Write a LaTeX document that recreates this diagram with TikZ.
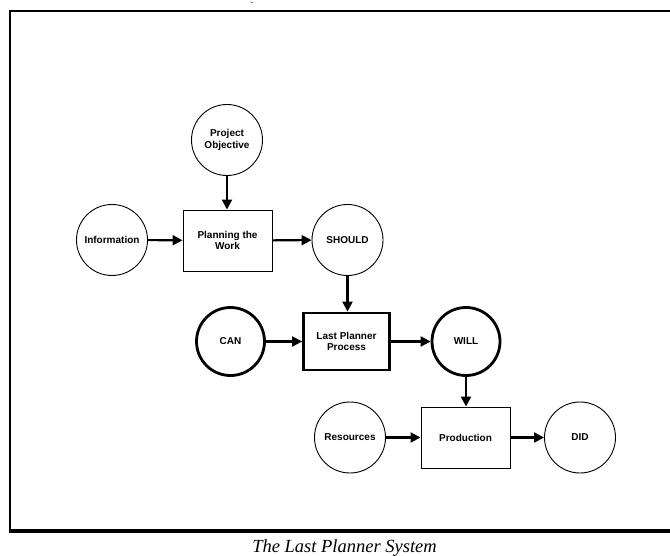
\documentclass[tikz,border=0pt]{standalone}
\usepackage{fontspec}
\setmainfont{Liberation Serif}
\setsansfont{Liberation Sans}
\usetikzlibrary{arrows.meta,calc}
\tikzset{
  lbl/.style={font=\sffamily\bfseries\fontsize{10}{11.8}\selectfont, align=center},
  circ/.style={lbl, circle, draw, line width=0.9pt, minimum size=71pt, inner sep=0pt},
  thickcirc/.style={circ, line width=2.8pt, minimum size=68pt},
  box/.style={lbl, rectangle, draw, line width=0.9pt, minimum width=89pt, minimum height=61pt, inner sep=0pt},
  thickbox/.style={box, line width=2.8pt, minimum width=86pt, minimum height=57pt},
  flow/.style={line width=2.1pt, -{Triangle[length=10pt,width=10pt]}},
}
\begin{document}
\begin{tikzpicture}[x=1pt,y=-1pt]
\useasboundingbox (0,0) rectangle (670,556);
% frame
\draw[line width=2pt] (10,11) -- (671,11);
\draw[line width=2.6pt] (10,10) -- (10,531);
\draw[line width=3.6pt] (8.7,531) -- (671,531);
\node[text=black!60, font=\fontsize{11}{11}\selectfont, inner sep=0pt] (mark) at (252,6) {˘};
% nodes
\node[circ] (po) at (227,140) {Project\\Objective};
\node[circ] (info) at (112,240) {Information};
\node[box] (plan) at (227.5,240.5) {Planning the\\Work};
\node[circ] (should) at (347.5,240) {SHOULD};
\node[thickcirc] (can) at (230.5,341.5) {CAN};
\node[thickbox] (lpp) at (346.5,341.5) {Last Planner\\Process};
\node[thickcirc] (will) at (466,341.5) {WILL};
\node[circ] (res) at (350,437.5) {Resources};
\node[box] (prod) at (465.5,437.5) {Production};
\node[circ] (did) at (580,437.5) {DID};
% connectors
\draw[flow] (po.south) -- (po.south |- plan.north);
\draw[flow] (info) -- (plan);
\draw[flow] (plan) -- (should);
\draw[flow] (should.south) -- (should.south |- lpp.north);
\draw[flow] (can) -- (lpp);
\draw[flow] (lpp) -- (will);
\draw[flow] (will.south) -- (will.south |- prod.north);
\draw[flow] (res) -- (prod);
\draw[flow] (prod) -- (did);
% caption
\node[font=\itshape\fontsize{18.5}{20}\selectfont, inner sep=0pt, anchor=base] (cap) at (344.5,552) {The Last Planner System};
\end{tikzpicture}
\end{document}
